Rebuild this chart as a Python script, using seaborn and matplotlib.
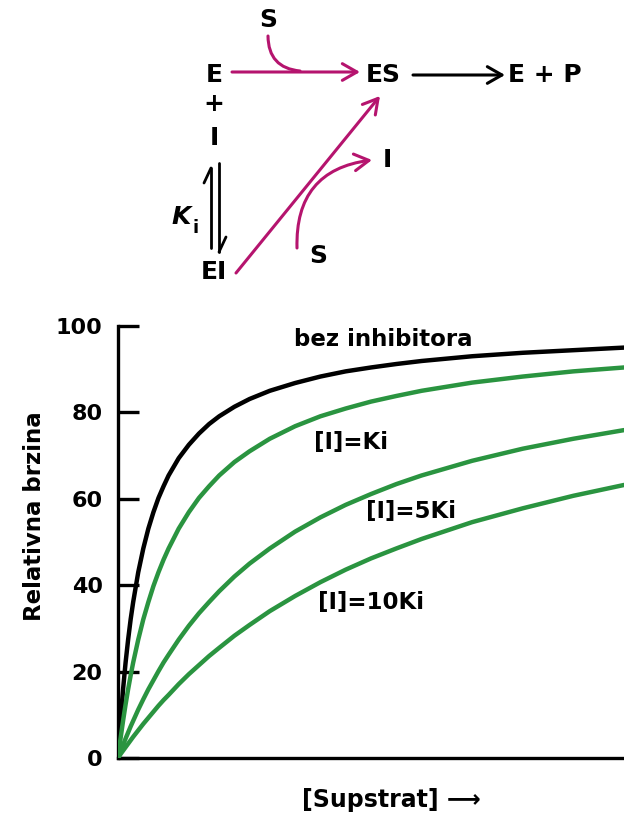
import matplotlib
matplotlib.use("Agg")
import matplotlib.pyplot as plt
from matplotlib.patches import FancyArrowPatch
from matplotlib.lines import Line2D
import seaborn as sns

# ---- data ----
substrate = [0, 0.25, 0.5, 1, 1.5, 2, 2.5, 3, 4, 5, 6, 7, 8, 9, 10, 12, 14, 16, 18, 20,
             23, 26, 30, 35, 40, 45, 50, 55, 60, 70, 80, 90, 100]
v_no_inhib = [0, 4.5, 8.6, 15.9, 22.1, 27.4, 32.1, 36.1, 43.0, 48.5, 53.1, 56.9, 60.2, 62.9,
              65.4, 69.4, 72.5, 75.1, 77.3, 79.1, 81.3, 83.1, 85.0, 86.8, 88.3, 89.5, 90.4,
              91.2, 91.9, 93.0, 93.8, 94.4, 95.0]
v_ki = [0, 2.3, 4.5, 8.6, 12.4, 15.9, 19.1, 22.1, 27.4, 32.1, 36.1, 39.8, 43.0, 45.9,
        48.5, 53.1, 56.9, 60.2, 62.9, 65.4, 68.5, 71.0, 73.9, 76.8, 79.1, 80.9, 82.5,
        83.8, 85.0, 86.9, 88.3, 89.5, 90.4]
v_5ki = [0, 0.8, 1.5, 3.0, 4.5, 5.9, 7.3, 8.6, 11.2, 13.6, 15.9, 18.0, 20.1, 22.1,
         23.9, 27.4, 30.6, 33.5, 36.1, 38.6, 42.0, 45.0, 48.5, 52.4, 55.7, 58.6, 61.1,
         63.4, 65.4, 68.8, 71.6, 73.9, 75.9]
v_10ki = [0, 0.4, 0.9, 1.7, 2.5, 3.3, 4.1, 4.9, 6.4, 7.9, 9.3, 10.7, 12.1, 13.4,
          14.6, 17.1, 19.4, 21.5, 23.6, 25.5, 28.3, 30.8, 34.0, 37.5, 40.7, 43.6, 46.2,
          48.5, 50.7, 54.6, 57.8, 60.7, 63.2]
curve_labels = ["bez inhibitora", "[I]=Ki", "[I]=5Ki", "[I]=10Ki"]
y_ticks = [0, 20, 40, 60, 80, 100]
y_label = "Relativna brzina"
x_label = "[Supstrat] \u27f6"

BLACK = "#000000"
GREEN = "#2a9440"
MAGENTA = "#b5146e"

sns.set_theme(style="white")
plt.rcParams["font.family"] = ["DejaVu Sans"]
plt.rcParams["text.color"] = "black"
plt.rcParams["axes.labelcolor"] = "black"
plt.rcParams["ytick.color"] = "black"
plt.rcParams["xtick.color"] = "black"

W, H = 624, 817
fig = plt.figure(figsize=(W / 100, H / 100), dpi=100)
fig.patch.set_facecolor("white")

def fx(px):
    return px / W

def fy(py):
    return 1 - py / H

ax = fig.add_axes([fx(118), fy(758), fx(624) - fx(118), fy(326) - fy(758)])
ax.set_facecolor("white")

sns.lineplot(x=substrate, y=v_no_inhib, color=BLACK, lw=3.2, ax=ax, zorder=2)
for vals in (v_ki, v_5ki, v_10ki):
    sns.lineplot(x=substrate, y=vals, color=GREEN, lw=3.2, ax=ax, zorder=3)

ax.set_xlim(0, 100)
ax.set_ylim(0, 100)
for s in ("top", "right"):
    ax.spines[s].set_visible(False)
for s in ("left", "bottom"):
    ax.spines[s].set_color("black")
    ax.spines[s].set_linewidth(2.4)
ax.set_xticks([])
ax.set_yticks(y_ticks)
ax.set_yticklabels([str(t) for t in y_ticks], fontsize=16, fontweight="bold")
ax.tick_params(axis="y", direction="in", length=15, width=2.4, pad=11, left=True, colors="black")
ax.set_ylabel(y_label, fontsize=16.5, fontweight="bold", color="black")
ax.yaxis.set_label_coords((46 - 118) / 506, (758 - 516) / 432)
ax.set_xlabel(x_label, fontsize=17, fontweight="bold", color="black")
ax.xaxis.set_label_coords((391 - 118) / 506, -(800 - 758) / 432)
ax.xaxis.label.set_va("center")

lab_pos = [(52.4, 96.8), (46, 73), (58, 57), (50, 36)]
for txt, (lx, ly) in zip(curve_labels, lab_pos):
    ax.text(lx, ly, txt, ha="center", va="center", fontsize=16.5, fontweight="bold", color="black")

# ---- reaction scheme at the top ----
def ftext(px, py, s, size=18, **kw):
    fig.text(fx(px), fy(py), s, ha="center", va="center", fontsize=size,
             fontweight="bold", color="black", **kw)

ftext(268, 20, "S")
ftext(214, 75, "E")
ftext(383, 75, "ES")
ftext(545, 75, "E + P")
ftext(214, 104, "+")
ftext(214, 138, "I")
ftext(214, 272, "EI")
ftext(387, 160, "I")
ftext(318, 256, "S")
fig.text(fx(181), fy(217), "K", ha="center", va="center", fontsize=18,
         fontweight="bold", fontstyle="italic", color="black")
fig.text(fx(196), fy(228), "i", ha="center", va="center", fontsize=13,
         fontweight="bold", color="black")

def farrow(p0, p1, color, conn="arc3", lw=2.2, head=True):
    a = FancyArrowPatch((fx(p0[0]), fy(p0[1])), (fx(p1[0]), fy(p1[1])),
                        transform=fig.transFigure, color=color, lw=lw,
                        arrowstyle="->,head_length=7,head_width=4" if head else "-",
                        connectionstyle=conn, shrinkA=0, shrinkB=0, mutation_scale=1.5)
    fig.add_artist(a)

farrow((232, 72), (360, 72), MAGENTA)
farrow((268, 36), (300, 71), MAGENTA, conn="arc3,rad=0.45", head=False)
farrow((413, 75), (505, 75), BLACK)
farrow((236, 273), (380, 96), MAGENTA)
farrow((297, 248), (372, 160), MAGENTA, conn="arc3,rad=-0.45")

# equilibrium harpoons
for xs, ys in (([211, 211], [168, 248]), ([204, 211], [183, 168]),
               ([219, 219], [163, 252]), ([226, 219], [237, 252])):
    fig.add_artist(Line2D([fx(x) for x in xs], [fy(y) for y in ys],
                          transform=fig.transFigure, color="black", lw=2.0))

fig.savefig("out.png", dpi=100, facecolor="white")
